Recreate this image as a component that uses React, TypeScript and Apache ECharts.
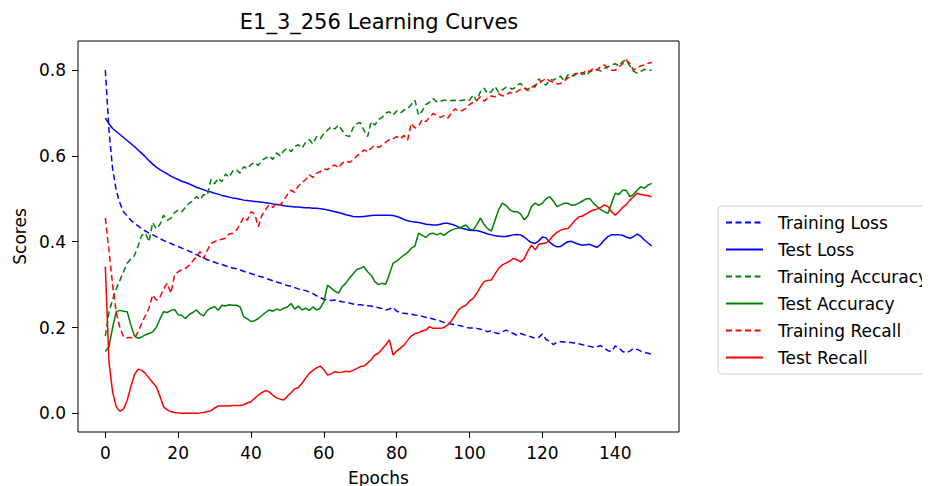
import React, { useEffect, useRef } from "react";
import * as echarts from "echarts";

// Per-epoch scores, epochs 0..150
const trainingLoss = [
  0.80, 0.66, 0.57, 0.52, 0.49, 0.47, 0.46, 0.45, 0.443, 0.437,
  0.43, 0.425, 0.42, 0.416, 0.412, 0.407, 0.403, 0.399, 0.396, 0.392,
  0.389, 0.385, 0.382, 0.378, 0.375, 0.37, 0.366, 0.362, 0.358, 0.355,
  0.352, 0.349, 0.347, 0.344, 0.341, 0.339, 0.337, 0.334, 0.331, 0.328,
  0.326, 0.323, 0.32, 0.318, 0.315, 0.312, 0.309, 0.306, 0.304, 0.301,
  0.298, 0.296, 0.293, 0.29, 0.288, 0.286, 0.283, 0.279, 0.274, 0.27,
  0.266, 0.264, 0.263, 0.264, 0.262, 0.26, 0.259, 0.257, 0.255, 0.253,
  0.253, 0.252, 0.251, 0.25, 0.248, 0.246, 0.244, 0.241, 0.243, 0.247,
  0.238, 0.235, 0.233, 0.232, 0.231, 0.229, 0.228, 0.226, 0.224, 0.222,
  0.22, 0.217, 0.215, 0.212, 0.21, 0.208, 0.206, 0.205, 0.203, 0.2,
  0.199, 0.199, 0.198, 0.196, 0.194, 0.19, 0.193, 0.188, 0.186, 0.19,
  0.194, 0.19, 0.186, 0.182, 0.186, 0.183, 0.181, 0.178, 0.175, 0.177,
  0.185, 0.172, 0.168, 0.16, 0.166, 0.167, 0.166, 0.165, 0.165, 0.163,
  0.162, 0.16, 0.158, 0.156, 0.154, 0.155, 0.158, 0.152, 0.146, 0.144,
  0.157, 0.152, 0.144, 0.141, 0.145, 0.151, 0.149, 0.145, 0.142, 0.14,
  0.138,
];

const testLoss = [
  0.688, 0.675, 0.664, 0.657, 0.65, 0.643, 0.636, 0.629, 0.622, 0.614,
  0.606, 0.598, 0.589, 0.581, 0.574, 0.568, 0.563, 0.558, 0.553, 0.549,
  0.545, 0.541, 0.538, 0.535, 0.531, 0.527, 0.524, 0.521, 0.518, 0.516,
  0.513, 0.511, 0.508, 0.506, 0.504, 0.502, 0.501, 0.499, 0.497, 0.496,
  0.495, 0.494, 0.493, 0.492, 0.491, 0.49, 0.488, 0.487, 0.486, 0.484,
  0.483, 0.482, 0.481, 0.481, 0.48, 0.479, 0.479, 0.478, 0.478, 0.477,
  0.476, 0.474, 0.472, 0.47, 0.468, 0.466, 0.463, 0.461, 0.459, 0.458,
  0.458, 0.459, 0.46, 0.461, 0.462, 0.462, 0.462, 0.462, 0.462, 0.461,
  0.459, 0.456, 0.452, 0.449, 0.447, 0.446, 0.445, 0.443, 0.441, 0.44,
  0.439, 0.439, 0.441, 0.443, 0.443, 0.441, 0.438, 0.434, 0.431, 0.429,
  0.427, 0.426, 0.426, 0.424, 0.421, 0.418, 0.416, 0.414, 0.413, 0.412,
  0.412, 0.414, 0.416, 0.417, 0.416, 0.411, 0.404, 0.398, 0.396, 0.402,
  0.411, 0.409, 0.399, 0.392, 0.388, 0.389, 0.395, 0.4, 0.401, 0.397,
  0.394, 0.392, 0.393, 0.394, 0.39, 0.387, 0.394, 0.404, 0.412, 0.416,
  0.416, 0.416, 0.415, 0.411, 0.408, 0.412, 0.418, 0.413, 0.404, 0.397,
  0.39,
];

const trainingAccuracy = [
  0.18, 0.235, 0.265, 0.29, 0.31, 0.33, 0.35, 0.36, 0.368, 0.39,
  0.415, 0.42, 0.4, 0.445, 0.43, 0.44, 0.462, 0.45, 0.455, 0.468,
  0.474, 0.47, 0.48, 0.49, 0.495, 0.505, 0.498, 0.51, 0.508, 0.545,
  0.535, 0.548, 0.54, 0.558, 0.55, 0.565, 0.568, 0.56, 0.575, 0.57,
  0.58, 0.585, 0.578, 0.59, 0.595, 0.6, 0.592, 0.607, 0.6, 0.612,
  0.618, 0.61, 0.622, 0.626, 0.618, 0.632, 0.638, 0.628, 0.645, 0.64,
  0.652, 0.66, 0.668, 0.663, 0.672, 0.66, 0.648, 0.645, 0.665, 0.675,
  0.678, 0.66, 0.645, 0.68, 0.672, 0.685, 0.69, 0.7, 0.703, 0.695,
  0.705, 0.7, 0.707, 0.71, 0.72, 0.73, 0.695, 0.705, 0.72, 0.725,
  0.734, 0.726, 0.728, 0.73, 0.73, 0.729, 0.73, 0.728, 0.73, 0.731,
  0.73, 0.742, 0.728, 0.75, 0.758, 0.745, 0.75, 0.762, 0.748, 0.754,
  0.76, 0.758, 0.756, 0.765, 0.769, 0.76, 0.755, 0.762, 0.761, 0.78,
  0.77, 0.765, 0.778, 0.777, 0.782, 0.786, 0.775, 0.789, 0.785, 0.792,
  0.79, 0.795, 0.788, 0.796, 0.8, 0.802, 0.798, 0.804, 0.808, 0.812,
  0.815, 0.81, 0.82, 0.824, 0.81, 0.798, 0.793, 0.797, 0.802, 0.8,
  0.8,
];

const testAccuracy = [
  0.144, 0.155, 0.2, 0.237, 0.24, 0.238, 0.237, 0.206, 0.18, 0.175,
  0.178, 0.183, 0.186, 0.19, 0.2, 0.22, 0.237, 0.235, 0.24, 0.242,
  0.23, 0.228, 0.221, 0.23, 0.235, 0.241, 0.232, 0.227, 0.24, 0.245,
  0.249, 0.24, 0.252, 0.25, 0.253, 0.252, 0.252, 0.248, 0.225, 0.22,
  0.214, 0.216, 0.221, 0.228, 0.235, 0.241, 0.238, 0.243, 0.24, 0.245,
  0.248, 0.256, 0.243, 0.25, 0.241, 0.245, 0.24, 0.248, 0.241, 0.245,
  0.26, 0.299, 0.292, 0.285, 0.28, 0.295, 0.303, 0.315, 0.325, 0.335,
  0.338, 0.342, 0.33, 0.322, 0.307, 0.3, 0.303, 0.301, 0.325, 0.35,
  0.355, 0.362, 0.369, 0.375, 0.385, 0.39, 0.42, 0.415, 0.41, 0.418,
  0.42, 0.416, 0.42, 0.415, 0.422, 0.427, 0.43, 0.432, 0.435, 0.439,
  0.43, 0.427, 0.44, 0.455, 0.44, 0.43, 0.425, 0.45, 0.475, 0.49,
  0.485, 0.475, 0.47, 0.47, 0.465, 0.451, 0.46, 0.482, 0.49, 0.485,
  0.49, 0.5, 0.505, 0.495, 0.482, 0.486, 0.49, 0.49, 0.485, 0.486,
  0.49, 0.495, 0.5, 0.501, 0.49, 0.482, 0.475, 0.47, 0.466, 0.49,
  0.513, 0.51, 0.52, 0.52, 0.505, 0.51, 0.52, 0.528, 0.525, 0.532,
  0.536,
];

const trainingRecall = [
  0.455, 0.38, 0.3, 0.235, 0.2, 0.178, 0.176, 0.177, 0.175, 0.19,
  0.21, 0.228, 0.245, 0.276, 0.264, 0.27, 0.29, 0.303, 0.28, 0.322,
  0.33, 0.335, 0.338, 0.345, 0.355, 0.365, 0.377, 0.361, 0.38, 0.396,
  0.4, 0.404, 0.406, 0.408, 0.418, 0.42, 0.427, 0.44, 0.458, 0.45,
  0.47, 0.465, 0.435, 0.462, 0.475, 0.486, 0.48, 0.49, 0.485, 0.497,
  0.51, 0.52, 0.515, 0.53, 0.538, 0.545, 0.556, 0.55, 0.56, 0.563,
  0.57, 0.568, 0.575, 0.579, 0.572, 0.583, 0.588, 0.585, 0.59, 0.6,
  0.605, 0.614, 0.61, 0.618, 0.625, 0.62, 0.625, 0.632, 0.638, 0.64,
  0.645, 0.64, 0.648, 0.637, 0.676, 0.665, 0.67, 0.685, 0.68, 0.69,
  0.699, 0.695, 0.69, 0.694, 0.688, 0.7, 0.71, 0.704, 0.706, 0.711,
  0.72, 0.725, 0.73, 0.738, 0.728, 0.735, 0.74, 0.738, 0.745, 0.74,
  0.742, 0.748, 0.746, 0.75, 0.755, 0.758, 0.752, 0.76, 0.765, 0.77,
  0.775, 0.781, 0.775, 0.772, 0.768, 0.769, 0.775, 0.782, 0.785, 0.789,
  0.795, 0.79, 0.8, 0.797, 0.805, 0.8, 0.808, 0.812, 0.805, 0.8,
  0.8, 0.808, 0.815, 0.824, 0.815, 0.8, 0.805, 0.81, 0.812, 0.816,
  0.818,
];

const testRecall = [
  0.342, 0.12, 0.05, 0.015, 0.005, 0.01, 0.03, 0.062, 0.09, 0.103,
  0.1, 0.093, 0.082, 0.072, 0.062, 0.04, 0.015, 0.008, 0.004, 0.002,
  0.001, 0.0, 0.0, 0.0, 0.0, 0.0, 0.001, 0.002, 0.004, 0.006,
  0.012, 0.017, 0.017, 0.017, 0.017, 0.018, 0.018, 0.018, 0.02, 0.024,
  0.027, 0.035, 0.042, 0.048, 0.053, 0.05, 0.042, 0.036, 0.033, 0.031,
  0.04, 0.048, 0.057, 0.06, 0.07, 0.082, 0.093, 0.1, 0.106, 0.11,
  0.102, 0.089, 0.092, 0.097, 0.095, 0.096, 0.098, 0.097, 0.1, 0.104,
  0.109, 0.11, 0.117, 0.125, 0.136, 0.14, 0.15, 0.16, 0.171, 0.136,
  0.145, 0.152, 0.159, 0.17, 0.18, 0.186, 0.188, 0.192, 0.194, 0.202,
  0.198, 0.198, 0.198, 0.2, 0.206, 0.215, 0.228, 0.241, 0.248, 0.252,
  0.262, 0.268, 0.28, 0.295, 0.307, 0.31, 0.311, 0.325, 0.338, 0.346,
  0.35, 0.355, 0.361, 0.358, 0.353, 0.36, 0.378, 0.392, 0.381, 0.394,
  0.396, 0.397, 0.404, 0.415, 0.422, 0.427, 0.43, 0.431, 0.44, 0.45,
  0.458, 0.46, 0.465, 0.47, 0.474, 0.476, 0.48, 0.486, 0.482, 0.47,
  0.462, 0.47, 0.48, 0.486, 0.497, 0.505, 0.513, 0.51, 0.509, 0.507,
  0.505,
];

const xTicks = [0, 20, 40, 60, 80, 100, 120, 140];
const yTicks = [0.0, 0.2, 0.4, 0.6, 0.8];

const seriesDefs = [
  { name: "Training Loss", values: trainingLoss, color: "#0000ff", dashed: true },
  { name: "Test Loss", values: testLoss, color: "#0000ff", dashed: false },
  { name: "Training Accuracy", values: trainingAccuracy, color: "#008000", dashed: true },
  { name: "Test Accuracy", values: testAccuracy, color: "#008000", dashed: false },
  { name: "Training Recall", values: trainingRecall, color: "#ff0000", dashed: true },
  { name: "Test Recall", values: testRecall, color: "#ff0000", dashed: false },
];

const FONT = "DejaVu Sans";

export default function App() {
  const ref = useRef<HTMLDivElement>(null);

  useEffect(() => {
    if (!ref.current) return;
    const chart = echarts.init(ref.current, null, { renderer: "svg" });

    const series = seriesDefs.map((s) => ({
      name: s.name,
      type: "line",
      data: s.values.map((v, i) => [i, v]),
      symbol: "none",
      smooth: false,
      color: s.color,
      lineStyle: {
        color: s.color,
        width: 1.5,
        type: s.dashed ? [6, 3.5] : "solid",
      },
      emphasis: { disabled: true },
    }));

    chart.setOption({
      animation: false,
      backgroundColor: "#ffffff",
      textStyle: { fontFamily: FONT },
      title: {
        text: "E1_3_256 Learning Curves",
        left: 379,
        top: 11,
        padding: 0,
        textAlign: "center",
        textStyle: { fontFamily: FONT, fontSize: 21, fontWeight: "normal", color: "#000000" },
      },
      grid: {
        left: 78,
        right: 251,
        top: 41,
        bottom: 54,
        outerBoundsMode: "none",
        show: true,
        borderColor: "#000000",
        borderWidth: 1,
        backgroundColor: "transparent",
      },
      legend: {
        orient: "vertical",
        left: 718,
        top: 206,
        padding: [8, 8, 8, 7],
        itemWidth: 37,
        itemHeight: 14,
        itemGap: 10,
        borderColor: "#cccccc",
        borderWidth: 1,
        borderRadius: 4,
        backgroundColor: "#ffffff",
        selectedMode: false,
        // line samples only, no marker in the middle
        itemStyle: { opacity: 0 },
        textStyle: {
          fontFamily: FONT,
          fontSize: 17,
          color: "#000000",
          padding: [0, 0, 0, 10],
        },
        data: seriesDefs.map((s) => s.name),
      },
      xAxis: {
        type: "value",
        min: -7.5,
        max: 157.5,
        name: "Epochs",
        nameLocation: "middle",
        nameGap: 37,
        nameTextStyle: { fontFamily: FONT, fontSize: 17, color: "#000000" },
        axisLine: { show: false, onZero: false },
        axisTick: { show: true, length: 6, customValues: xTicks, lineStyle: { color: "#000000" } },
        axisLabel: {
          customValues: xTicks,
          margin: 12,
          fontFamily: FONT,
          fontSize: 17,
          color: "#000000",
        },
        splitLine: { show: false },
      },
      yAxis: {
        type: "value",
        min: -0.0436,
        max: 0.868,
        name: "Scores",
        nameLocation: "middle",
        nameGap: 48,
        nameRotate: 90,
        nameTextStyle: { fontFamily: FONT, fontSize: 17, color: "#000000" },
        axisLine: { show: false, onZero: false },
        axisTick: { show: true, length: 6, customValues: yTicks, lineStyle: { color: "#000000" } },
        axisLabel: {
          customValues: yTicks,
          margin: 12,
          fontFamily: FONT,
          fontSize: 17,
          color: "#000000",
          formatter: (v: number) => v.toFixed(1),
        },
        splitLine: { show: false },
      },
      series,
    });

    return () => chart.dispose();
  }, []);

  return <div ref={ref} style={{ width: 930, height: 486, marginLeft: -8, marginTop: -8 }} />;
}
